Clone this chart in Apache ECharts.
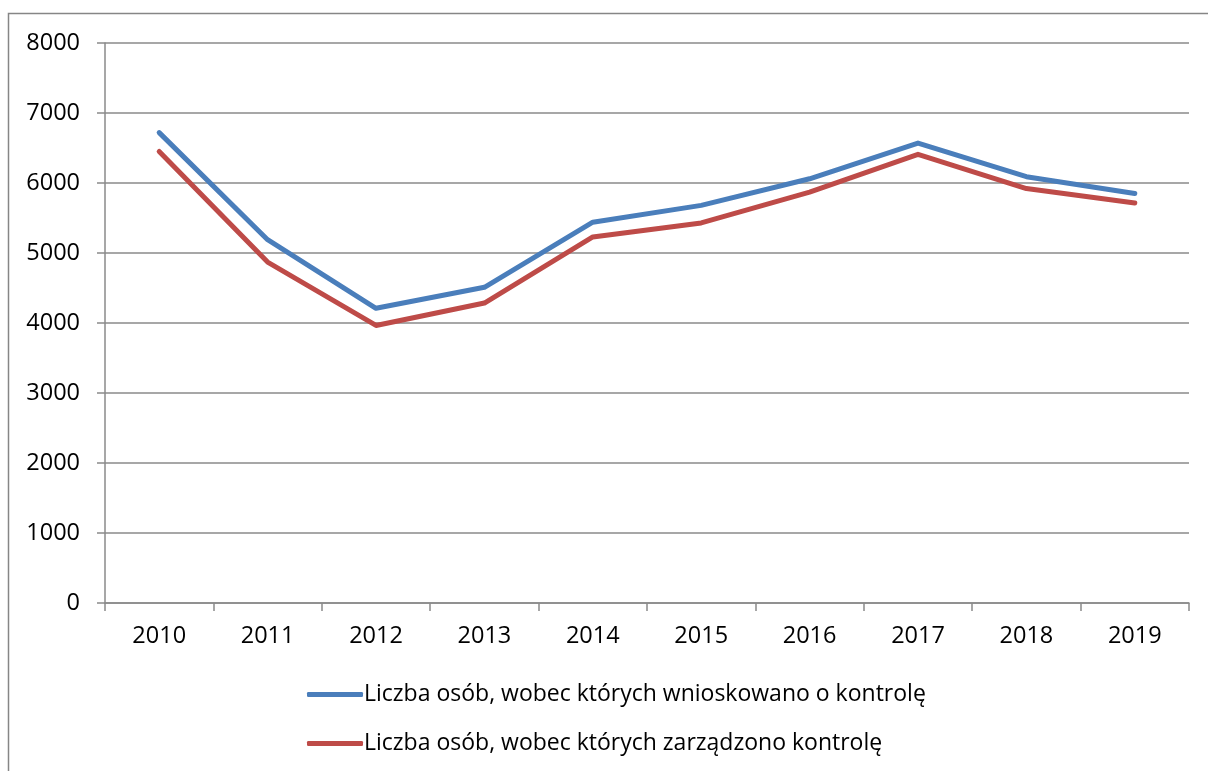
<!DOCTYPE html>
<html>
<head>
    <meta charset="utf-8">
    <title>Liczba osób - kontrola</title>
    <script src="https://cdn.jsdelivr.net/npm/echarts@6/dist/echarts.min.js"></script>
    <style>
        html, body { margin: 0; padding: 0; background: #fff; }
    </style>
</head>
<body>
<div id="chart" style="width:1208px;height:771px;"></div>

<script type="text/javascript">
    // lata
    var years = ['2010', '2011', '2012', '2013', '2014', '2015', '2016', '2017', '2018', '2019'];
    var seriesNames = [
        'Liczba osób, wobec których wnioskowano o kontrolę',
        'Liczba osób, wobec których zarządzono kontrolę'
    ];
    var wnioskowano = [6720, 5190, 4210, 4510, 5440, 5680, 6060, 6570, 6090, 5850];
    var zarzadzono = [6450, 4870, 3965, 4285, 5230, 5430, 5870, 6410, 5920, 5715];
    var yTicks = [0, 1000, 2000, 3000, 4000, 5000, 6000, 7000, 8000];

    var myChart = echarts.init(document.getElementById('chart'));
    var font = 'Open Sans';

    var option = {
        backgroundColor: '#fff',
        animation: false,
        graphic: [{
            type: 'rect',
            shape: { x: 8.5, y: 13.5, width: 1300, height: 900 },
            style: { fill: 'none', stroke: '#868686', lineWidth: 1.5 },
            silent: true
        }],
        grid: { left: 105, right: 19, top: 43, bottom: 168 },
        legend: {
            orient: 'vertical',
            left: 302,
            top: 678,
            itemWidth: 56,
            itemHeight: 5,
            itemGap: 26,
            icon: 'roundRect',
            textStyle: { fontFamily: font, fontSize: 23, color: '#000', padding: [0, 0, 0, -4] },
            data: seriesNames
        },
        xAxis: {
            type: 'category',
            data: years,
            boundaryGap: true,
            axisLine: { lineStyle: { color: '#8a8a8a', width: 1.5 } },
            axisTick: { show: true, length: 8, lineStyle: { color: '#8a8a8a', width: 1.5 } },
            axisLabel: { fontFamily: font, fontSize: 23.5, color: '#000', margin: 21 }
        },
        yAxis: {
            type: 'value',
            min: yTicks[0],
            max: yTicks[yTicks.length - 1],
            interval: 1000,
            axisLine: { show: true, lineStyle: { color: '#8a8a8a', width: 1.5 } },
            axisTick: { show: true, length: 8, lineStyle: { color: '#8a8a8a', width: 1.5 } },
            axisLabel: {
                fontFamily: font, fontSize: 23.5, color: '#000', margin: 25,
                formatter: function (v) { return String(v); }
            },
            splitLine: { lineStyle: { color: '#8a8a8a', width: 1.5 } }
        },
        series: [
            {
                name: seriesNames[0],
                type: 'line',
                data: wnioskowano,
                symbol: 'none',
                color: '#4a7ebb',
                lineStyle: { width: 5, color: '#4a7ebb', cap: 'round', join: 'round' }
            },
            {
                name: seriesNames[1],
                type: 'line',
                data: zarzadzono,
                symbol: 'none',
                color: '#be4b48',
                lineStyle: { width: 5, color: '#be4b48', cap: 'round', join: 'round' }
            }
        ]
    };

    myChart.setOption(option);
</script>
</body>
</html>
